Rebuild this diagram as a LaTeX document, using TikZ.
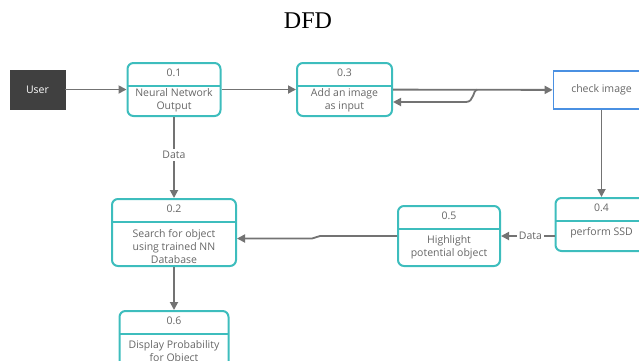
\documentclass[tikz,border=0pt]{standalone}
\usepackage{fontspec}
\setmainfont{Liberation Serif}
\newfontfamily\boxfont{Open Sans}
\usetikzlibrary{arrows.meta,calc,positioning}

\definecolor{procteal}{HTML}{3DBDBD}
\definecolor{checkblue}{HTML}{4A90E2}
\definecolor{flowgray}{HTML}{737373}
\definecolor{textgray}{HTML}{666666}
\definecolor{userdark}{HTML}{404040}

\tikzset{
    proc/.style={draw=procteal, line width=2pt, rounded corners=6pt, inner sep=0pt,
        path picture={\draw[procteal,line width=2pt]
            ([yshift=-22.5pt]path picture bounding box.north west) --
            ([yshift=-22.5pt]path picture bounding box.north east);}},
    num/.style={text=textgray, font=\boxfont\fontsize{10.5}{13}\selectfont},
    desc/.style={text=textgray, align=center, font=\boxfont\fontsize{10.5}{13}\selectfont},
    user/.style={fill=userdark, draw=userdark, text=white, minimum width=55pt, minimum height=39pt,
        font=\boxfont\fontsize{10.5}{13}\selectfont},
    check/.style={draw=checkblue, line width=1.7pt, fill=white, text=textgray, minimum width=96pt,
        minimum height=38pt, font=\boxfont\fontsize{10.5}{13}\selectfont},
    flow/.style={draw=flowgray, line width=1.8pt, -{Triangle[length=8pt,width=8pt]}},
    lbl/.style={fill=white, text=textgray, inner sep=2pt, font=\boxfont\fontsize{10.5}{13}\selectfont}
}

\begin{document}
\begin{tikzpicture}[x=1pt,y=-1pt]
    \useasboundingbox (0,0) rectangle (639,360);

    \node[font=\fontsize{24}{28}\selectfont] (title) at (308,21) {DFD};

    \node[user] (user) at (37.5,89.5) {User};
    \node[proc, minimum width=93pt, minimum height=53pt] (p1) at (174,89.5) {};
    \node[proc, minimum width=95pt, minimum height=53pt] (p3) at (344.5,89.5) {};
    \node[check] (check) at (601.5,90) {check image};
    \node[proc, minimum width=92pt, minimum height=53pt] (p4) at (601.5,224.5) {};
    \node[proc, minimum width=102pt, minimum height=60pt] (p5) at (449,236) {};
    \node[proc, minimum width=124pt, minimum height=67pt] (p2) at (174,232.5) {};
    \node[proc, minimum width=109pt, minimum height=60pt] (p6) at (174,341) {};

    % numbers and texts
    \node[num] (p1num) at ([yshift=-11.25pt]p1.north) {0.1};
    \node[desc] (p1txt) at ($(p1.south)!0.5!([yshift=-22.5pt]p1.north)$) {Neural Network\\Output};
    \node[num] (p3num) at ([yshift=-11.25pt]p3.north) {0.3};
    \node[desc] (p3txt) at ($(p3.south)!0.5!([yshift=-22.5pt]p3.north)$) {Add an image\\as input};
    \node[num] (p4num) at ([yshift=-11.25pt]p4.north) {0.4};
    \node[desc] (p4txt) at ($(p4.south)!0.6!([yshift=-22.5pt]p4.north)$) {perform SSD};
    \node[num] (p5num) at ([yshift=-11.25pt]p5.north) {0.5};
    \node[desc] (p5txt) at ($(p5.south)!0.5!([yshift=-22.5pt]p5.north)$) {Highlight\\potential object};
    \node[num] (p2num) at ([yshift=-11.25pt]p2.north) {0.2};
    \node[desc] (p2txt) at ($(p2.south)!0.45!([yshift=-22.5pt]p2.north)$) {Search for object\\using trained NN\\Database};
    \node[num] (p6num) at ([yshift=-11.25pt]p6.north) {0.6};
    \node[desc] (p6txt) at ($(p6.south)!0.5!([yshift=-22.5pt]p6.north)$) {Display Probability\\for Object};

    % flows
    \draw[flow] (user) -- (p1);
    \draw[flow] (p1) -- (p3);
    \draw[flow] (p3) -- (check);
    \coordinate (jump) at (477,89.5);
    \coordinate (ret) at (466,102);
    \draw[flow] (jump) .. controls (473,90) and (474,102) .. (ret) -- (p3.east |- ret);
    \draw[flow] (check) -- (p4);
    \draw[flow] (p4.west |- p5) -- node[lbl, pos=0.45] (data2) {Data} (p5);
    \coordinate (jog) at (312,238.5);
    \draw[flow] (p5.west) -- (320,236) -- (jog) -- (p2.east |- jog);
    \draw[flow] (p1) -- node[lbl, pos=0.47] (data1) {Data} (p2);
    \draw[flow] (p2) -- (p6);
\end{tikzpicture}
\end{document}
